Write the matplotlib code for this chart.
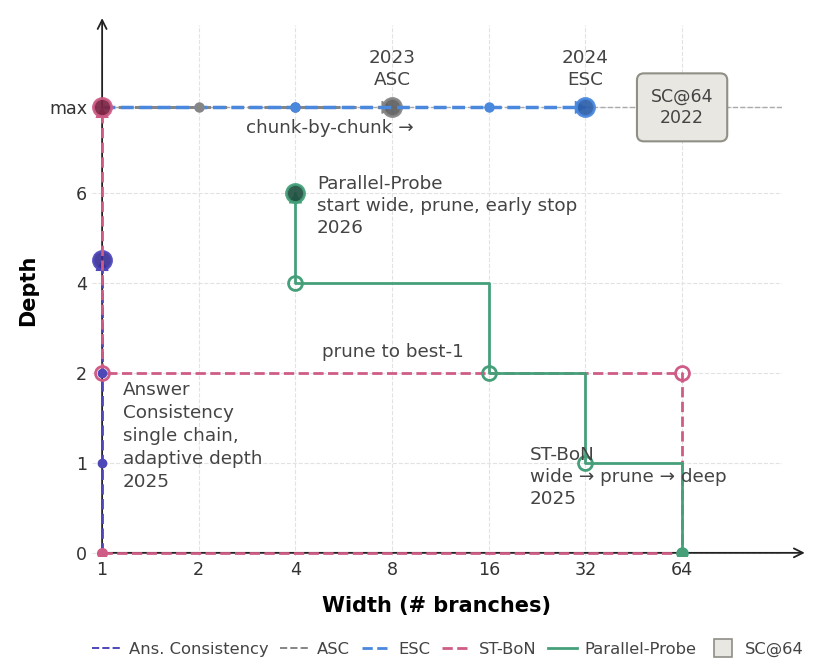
import numpy as np
import matplotlib
matplotlib.use("Agg")
import matplotlib.pyplot as plt
from matplotlib.lines import Line2D

MAX_D = 7.9

# axis ticks
width_ticks = [1, 2, 4, 8, 16, 32, 64]
depth_ticks = [0, 1, 2, 4, 6, MAX_D]
depth_labels = ["0", "1", "2", "4", "6", "max"]

# trajectories (width, depth)
ans_w = [1, 1, 1, 1]
ans_d = [0, 1, 2, 4.5]
asc_w = [1, 2, 4, 8]
asc_d = [MAX_D, MAX_D, MAX_D, MAX_D]
esc_w = [1, 4, 16, 32]
esc_d = [MAX_D, MAX_D, MAX_D, MAX_D]
stbon_w = [1, 64, 64, 1, 1]
stbon_d = [0, 0, 2, 2, MAX_D]
pp_w = [64, 64, 32, 32, 16, 16, 4, 4]
pp_d = [0, 1, 1, 2, 2, 4, 4, 6]
sc_w, sc_d = 64, MAX_D

TXT = "#444444"
FS = 13.2


def fwd(d):
    d = np.asarray(d, dtype=float)
    return np.where(d <= 2, d, 2 + (d - 2) / 2)


def inv(p):
    p = np.asarray(p, dtype=float)
    return np.where(p <= 2, p, 2 + (p - 2) * 2)


fig = plt.figure(figsize=(8.28, 6.72), dpi=100)
ax = fig.add_axes([92 / 828, 116 / 672, 690 / 828, 531 / 672])
ax.set_xscale("log", base=2)
ax.set_yscale("function", functions=(fwd, inv))
ax.set_xlim(0.93, 131)
ax.set_ylim(-0.035, 9.73)
ax.set_xticks(width_ticks, labels=[str(w) for w in width_ticks])
ax.set_yticks(depth_ticks, labels=depth_labels)
ax.minorticks_off()
ax.tick_params(length=0, labelsize=12.6, labelcolor="#333333")
for s in ax.spines.values():
    s.set_visible(False)
ax.grid(True, ls="--", lw=0.8, color="#e2e2e2", zorder=0)
ax.set_axisbelow(True)
ax.set_xlabel("Width (# branches)", fontsize=15, fontweight="bold", labelpad=12)
ax.set_ylabel("Depth", fontsize=15, fontweight="bold", labelpad=8)

# axis arrows
ax.annotate("", xy=(1.033, 0), xycoords=("axes fraction", "data"),
            xytext=(1, 0), textcoords="data",
            arrowprops=dict(arrowstyle="->", color="#222222", lw=1.3,
                            shrinkA=0, shrinkB=0, mutation_scale=16),
            annotation_clip=False, zorder=1.5)
ax.annotate("", xy=(1, 1.013), xycoords=("data", "axes fraction"),
            xytext=(1, 0), textcoords="data",
            arrowprops=dict(arrowstyle="->", color="#222222", lw=1.3,
                            shrinkA=0, shrinkB=0, mutation_scale=16),
            annotation_clip=False, zorder=1.5)

# reference line at max depth
ax.axhline(MAX_D, color="#aaaaaa", ls="--", lw=1, zorder=1)


def head(w, d, color, z):
    if w[-1] == w[-2]:
        vx, vy = 0, np.sign(d[-1] - d[-2])
    else:
        vx, vy = np.sign(w[-1] - w[-2]), 0
    ax.annotate("", xy=(w[-1], d[-1]), xytext=(-vx * 12, -vy * 12),
                textcoords="offset pixels",
                arrowprops=dict(arrowstyle="-|>,head_length=0.6,head_width=0.4",
                                color=color, lw=1, shrinkA=0, shrinkB=0,
                                mutation_scale=10.5),
                zorder=z)


def end_marker(w, d, color, dark, z):
    ax.plot(w[-1], d[-1], "o", ms=13, mfc=dark, mec=color, mew=2,
            alpha=0.92, zorder=z)


# Answer Consistency
ans_c, ans_dark = "#4D47B8", "#3A2F96"
ax.plot(ans_w, ans_d, color=ans_c, ls="--", lw=2, zorder=3)
ax.plot(ans_w[1:-1], ans_d[1:-1], "o", ms=6, color=ans_c, zorder=6)
head(ans_w, ans_d, ans_c, 4)
end_marker(ans_w, ans_d, ans_c, ans_dark, 4.5)

# ASC
asc_c, asc_dark = "#858585", "#5e5e5e"
ax.plot(asc_w, asc_d, color=asc_c, ls="--", lw=2.2, zorder=3)
ax.plot(asc_w[1:-1], asc_d[1:-1], "o", ms=6.5, color=asc_c, zorder=6)
head(asc_w, asc_d, asc_c, 4)
end_marker(asc_w, asc_d, asc_c, asc_dark, 4.5)

# ESC
esc_c, esc_dark = "#4A88DE", "#2B5EAA"
ax.plot(esc_w, esc_d, color=esc_c, ls="--", lw=2.5, zorder=5)
ax.plot(esc_w[1:-1], esc_d[1:-1], "o", ms=6.5, color=esc_c, zorder=6)
head(esc_w, esc_d, esc_c, 5.5)
end_marker(esc_w, esc_d, esc_c, esc_dark, 5.6)

# ST-BoN
st_c, st_dark = "#CF5C86", "#7A2342"
ax.plot(stbon_w, stbon_d, color=st_c, ls="--", lw=2, zorder=5)
ax.plot(stbon_w[0], stbon_d[0], "o", ms=7, color=st_c, zorder=6)
ax.plot(stbon_w[2:4], stbon_d[2:4], "o", ms=10, mfc="none", mec=st_c,
        mew=2, zorder=6)
head(stbon_w, stbon_d, st_c, 6)
end_marker(stbon_w, stbon_d, st_c, st_dark, 6.5)

# Parallel-Probe
pp_c, pp_dark = "#45A07A", "#1F5040"
ax.plot(pp_w, pp_d, color=pp_c, ls="-", lw=2, zorder=7)
ax.plot(pp_w[0], pp_d[0], "o", ms=8, color=pp_c, zorder=7.5)
ax.plot(pp_w[2:-1:2], pp_d[2:-1:2], "o", ms=10, mfc="none", mec=pp_c,
        mew=2, zorder=7.5)
head(pp_w, pp_d, pp_c, 7.6)
end_marker(pp_w, pp_d, pp_c, pp_dark, 7.7)

# SC@64 box
box_face, box_edge = "#E8E7E2", "#8F8F86"
ax.text(sc_w, sc_d, "SC@64\n2022", ha="center", va="center", fontsize=12.5,
        color=TXT, zorder=8, linespacing=1.3,
        bbox=dict(boxstyle="round,pad=0.8,rounding_size=0.4",
                  fc=box_face, ec=box_edge, lw=1.5))

# annotations
ax.text(8, 8.75, "2023\nASC", ha="center", va="center", fontsize=FS,
        color=TXT, linespacing=1.3)
ax.text(32, 8.75, "2024\nESC", ha="center", va="center", fontsize=FS,
        color=TXT, linespacing=1.3)
ax.text(5.13, 7.45, "chunk-by-chunk \u2192", ha="center", va="center",
        fontsize=FS, color=TXT)
ax.text(4.67, 5.71, "Parallel-Probe\nstart wide, prune, early stop\n2026",
        ha="left", va="center", fontsize=FS, color=TXT, zorder=9,
        linespacing=1.3)
ax.text(8.05, 2.47, "prune to best-1", ha="center", va="center",
        fontsize=FS, color=TXT)
ax.text(1.16, 1.3, "Answer\nConsistency\nsingle chain,\nadaptive depth\n2025",
        ha="left", va="center", fontsize=FS, color=TXT, linespacing=1.35)
ax.text(21.5, 0.84, "ST-BoN\nwide \u2192 prune \u2192 deep\n2025",
        ha="left", va="center", fontsize=FS, color=TXT, zorder=9,
        linespacing=1.3)

handles = [
    Line2D([], [], color=ans_c, ls="--", lw=1.4, label="Ans. Consistency"),
    Line2D([], [], color=asc_c, ls="--", lw=1.4, label="ASC"),
    Line2D([], [], color=esc_c, ls="--", lw=2, label="ESC"),
    Line2D([], [], color=st_c, ls="--", lw=2, label="ST-BoN"),
    Line2D([], [], color=pp_c, ls="-", lw=2, label="Parallel-Probe"),
    Line2D([], [], marker="s", ls="none", ms=13, mfc=box_face, mec=box_edge,
           mew=1.2, label="SC@64"),
]
fig.legend(handles=handles, loc="center", bbox_to_anchor=(0.541, 0.033),
           ncol=6, frameon=False, fontsize=11.8, columnspacing=0.7,
           handlelength=1.8, handletextpad=0.45, labelcolor=TXT)

fig.savefig("out.png", dpi=100)
